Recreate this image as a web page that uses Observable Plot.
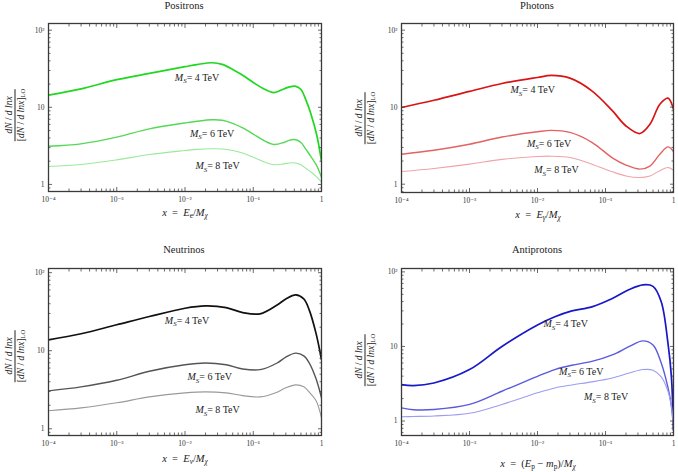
<!DOCTYPE html>
<html><head><meta charset="utf-8">
<script src="https://cdn.jsdelivr.net/npm/d3@7"></script>
<script src="https://cdn.jsdelivr.net/npm/@observablehq/plot@0.6"></script>
<style>
body{margin:0;background:#fff;}
#root{position:relative;width:678px;height:472px;font-family:"Liberation Serif","Times New Roman",Times,"DejaVu Serif","Noto Serif",serif;color:#222;overflow:hidden}
.panel{position:absolute;width:339px;height:236px;}
.panel svg{position:absolute;left:0;top:0;}
.t{position:absolute;transform:translate(-50%,-50%);white-space:nowrap;line-height:1;}
.title{font-size:10.5px;}
.xlab{font-size:10.5px;}
.ylab{position:absolute;transform:translate(-50%,-50%) rotate(-90deg);white-space:nowrap;text-align:center;font-size:9.5px;line-height:11px;display:inline-block;}
.ylab .num{border-bottom:0.8px solid #222;padding:0 1px;}
sub{font-size:70%;vertical-align:-0.3em;line-height:0;}
</style>
</head><body><div id="root"></div>
<script>
const FONT = '"Liberation Serif","Times New Roman",Times,"DejaVu Serif","Noto Serif",serif';
const masses = ["4", "6", "8"];
const widths = [1.7, 1.4, 1.1];

const xMajor = [1e-4, 1e-3, 1e-2, 1e-1, 1];
const xMajorLabels = ["10⁻⁴", "10⁻³", "10⁻²", "10⁻¹", "1"];
const yMajor = [1, 10, 100];
const yMajorLabels = ["1", "10", "10²"];

// Positrons
const positronX = [0.0001, 0.0003, 0.001, 0.003, 0.01, 0.015, 0.025, 0.035, 0.05, 0.07, 0.1, 0.14, 0.2, 0.28, 0.34, 0.42, 0.5, 0.6, 0.7, 0.85, 1];
const positron4 = [14.4, 17.3, 22.8, 27.5, 33.6, 35.8, 37.8, 36, 31, 26, 21, 17.5, 15.5, 17.3, 18.4, 18.7, 17, 12, 8.2, 4.4, 2.0];
const positron6 = [3.13, 3.36, 4.1, 5.25, 6.27, 6.6, 6.9, 6.8, 6.2, 5.4, 4.5, 3.75, 3.3, 3.5, 3.75, 3.8, 3.5, 2.8, 2.3, 1.75, 1.24];
const positron8 = [1.71, 1.81, 2.08, 2.44, 2.75, 2.85, 2.9, 2.88, 2.75, 2.55, 2.25, 1.98, 1.8, 1.85, 1.9, 1.9, 1.8, 1.6, 1.45, 1.25, 1.07];
const positronLabelX = [0.015, 0.025, 0.03];
const positronLabelY = [24.2, 4.6, 1.73];
const positronColors = ["#1fd81f", "#55d955", "#9be99b"];

// Photons
const photonX = [0.0001, 0.0003, 0.001, 0.003, 0.01, 0.016, 0.03, 0.063, 0.126, 0.2, 0.32, 0.45, 0.63, 0.83, 1];
const photon4 = [9.9, 12.3, 16, 20.3, 24.3, 25.8, 23.8, 16.3, 9, 5.7, 4.55, 6, 10.9, 13.1, 9.4];
const photon6 = [2.45, 2.76, 3.3, 4.1, 4.8, 5.0, 4.7, 3.5, 2.2, 1.77, 1.57, 1.72, 2.45, 3.05, 2.65];
const photon8 = [1.46, 1.6, 1.82, 2.1, 2.29, 2.31, 2.22, 1.82, 1.45, 1.28, 1.22, 1.28, 1.5, 1.65, 1.52];
const photonLabelX = [0.0085, 0.0148, 0.019];
const photonLabelY = [16.6, 3.37, 1.52];
const photonColors = ["#d81515", "#e36262", "#f0a3a8"];

// Neutrinos
const neutrinoX = [0.0001, 0.0003, 0.001, 0.003, 0.01, 0.02, 0.04, 0.07, 0.126, 0.224, 0.3, 0.42, 0.55, 0.66, 0.83, 1];
const neutrino4 = [13.8, 16.5, 21.5, 27.4, 35, 37.5, 35.7, 30.8, 29.7, 38.6, 46, 52, 46, 33.4, 16.8, 7.7];
const neutrino6 = [3.06, 3.44, 4.18, 5.45, 6.6, 6.96, 6.6, 5.83, 5.72, 6.96, 8.3, 9.3, 8.6, 7.0, 4.4, 2.49];
const neutrino8 = [1.7, 1.85, 2.15, 2.56, 2.88, 2.97, 2.88, 2.66, 2.56, 2.94, 3.35, 3.65, 3.45, 2.95, 2.3, 1.38];
const neutrinoLabelX = [0.0107, 0.023, 0.030];
const neutrinoLabelY = [24.2, 4.57, 1.73];
const neutrinoColors = ["#111111", "#555555", "#9a9a9a"];

// Antiprotons
const antiprotonX = [0.0001, 0.00015, 0.0003, 0.001, 0.003, 0.01, 0.018, 0.032, 0.063, 0.126, 0.224, 0.355, 0.5, 0.66, 0.83, 0.93, 1];
const antiproton4 = [3.08, 2.99, 3.24, 4.9, 10, 19.4, 25, 30, 34, 44, 58, 67, 64, 39.8, 11, 4, 0.75];
const antiproton6 = [1.5, 1.42, 1.43, 1.67, 2.51, 3.98, 4.9, 5.6, 6.3, 7.7, 10, 11.9, 10.5, 6, 2.8, 1.6, 0.8];
const antiproton8 = [1.14, 1.15, 1.17, 1.27, 1.67, 2.39, 2.78, 3.05, 3.35, 3.78, 4.4, 4.9, 4.8, 3.9, 2.5, 1.6, 0.82];
const antiprotonLabelX = [0.026, 0.044, 0.102];
const antiprotonLabelY = [20, 4.64, 2.09];
const antiprotonColors = ["#1818c8", "#5a5ade", "#9c9cf0"];

const xMinor = d3.range(-4, 0).flatMap(e => d3.range(2, 10).map(k => k * Math.pow(10, e)));
const yMinorAll = d3.range(-1, 2).flatMap(e => d3.range(2, 10).map(k => k * Math.pow(10, e)));

function makePanel(cfg) {
  const series = [cfg.y4, cfg.y6, cfg.y8];
  const rows = [];
  masses.forEach((m, j) => cfg.xs.forEach((x, i) => rows.push({x, y: series[j][i], m})));
  const labelRows = masses.map((m, j) => ({x: cfg.lx[j], y: cfg.ly[j], t: `M_S= ${m} TeV`}));
  const [y0, y1] = cfg.yDomain;
  const yMin = yMinorAll.filter(v => v > y0 && v < y1);
  const tickStyle = {stroke: "#444", strokeWidth: 0.8, fill: "none", label: null};
  const svg = Plot.plot({
    width: 339, height: 236,
    marginLeft: cfg.m[0], marginRight: cfg.m[1], marginTop: cfg.m[2], marginBottom: cfg.m[3],
    x: {type: "log", domain: [1e-4, 1]},
    y: {type: "log", domain: cfg.yDomain},
    style: {fontFamily: FONT, fontSize: "7.5px", color: "#222", background: "transparent", overflow: "visible"},
    marks: [
      ...masses.map((m, j) => Plot.line(rows.filter(r => r.m === m), {
        x: "x", y: "y", stroke: cfg.colors[j], strokeWidth: widths[j], curve: "catmull-rom", clip: true
      })),
      Plot.text(labelRows, {x: "x", y: "y", text: "t", fontSize: 10, fill: "#222", textAnchor: "middle", fontFamily: FONT}),
      Plot.axisX(xMajor, {anchor: "bottom", tickSize: -4, ...tickStyle}),
      Plot.axisX(xMinor, {anchor: "bottom", tickSize: -2.5, ...tickStyle}),
      Plot.axisX(xMajor, {anchor: "top", tickSize: -4, ...tickStyle}),
      Plot.axisX(xMinor, {anchor: "top", tickSize: -2.5, ...tickStyle}),
      Plot.axisY(yMajor, {anchor: "left", tickSize: -4, ...tickStyle}),
      Plot.axisY(yMin, {anchor: "left", tickSize: -2.5, ...tickStyle}),
      Plot.axisY(yMajor, {anchor: "right", tickSize: -4, ...tickStyle}),
      Plot.axisY(yMin, {anchor: "right", tickSize: -2.5, ...tickStyle}),
      Plot.axisX(xMajor, {anchor: "bottom", tickSize: 0, tickPadding: 5, label: null, fill: "#333", fontFamily: FONT,
        tickFormat: d => xMajorLabels[xMajor.indexOf(d)]}),
      Plot.axisY(yMajor, {anchor: "left", tickSize: 0, tickPadding: 4, label: null, fill: "#333", fontFamily: FONT,
        tickFormat: d => yMajorLabels[yMajor.indexOf(d)]}),
      Plot.frame({stroke: "#3a3a3a", strokeWidth: 1.3})
    ]
  });
  d3.select(svg).selectAll('g[aria-label="text"] text').each(function () {
    const s = d3.select(this);
    const t = s.text();
    const rest = t.slice(3);
    s.text(null);
    s.append("tspan").attr("font-style", "italic").text("M");
    s.append("tspan").attr("font-style", "italic").attr("font-size", "7").attr("dy", "2.5").text("S");
    s.append("tspan").attr("dy", "-2.5").text(rest);
  });
  const div = document.createElement("div");
  div.className = "panel";
  div.style.left = cfg.pos[0] + "px";
  div.style.top = cfg.pos[1] + "px";
  div.appendChild(svg);
  const title = document.createElement("div");
  title.className = "t title";
  title.style.left = cfg.title[1] + "px"; title.style.top = cfg.title[2] + "px";
  title.textContent = cfg.title[0];
  div.appendChild(title);
  const xl = document.createElement("div");
  xl.className = "t xlab";
  xl.style.left = cfg.xlab[1] + "px"; xl.style.top = cfg.xlab[2] + "px";
  xl.innerHTML = cfg.xlab[0];
  div.appendChild(xl);
  const yl = document.createElement("div");
  yl.className = "ylab";
  yl.style.left = cfg.ylab[0] + "px"; yl.style.top = cfg.ylab[1] + "px";
  yl.innerHTML = '<div class="num"><i>dN</i> / <i>d</i> <i>ln</i><i>x</i></div><div class="den">[<i>dN</i> / <i>d</i> <i>ln</i><i>x</i>]<sub>LO</sub></div>';
  div.appendChild(yl);
  document.getElementById("root").appendChild(div);
}

const sp = "&nbsp;&nbsp;";
makePanel({
  xs: positronX, y4: positron4, y6: positron6, y8: positron8,
  lx: positronLabelX, ly: positronLabelY, colors: positronColors,
  yDomain: [0.81, 122], m: [48, 18, 23, 45], pos: [0, 0],
  title: ["Positrons", 184, 6], xlab: [`<i>x</i>${sp}=${sp}<i>E</i><sub>e</sub>/<i>M</i><sub><i>χ</i></sub>`, 185, 213], ylab: [15, 115]
});
makePanel({
  xs: photonX, y4: photon4, y6: photon6, y8: photon8,
  lx: photonLabelX, ly: photonLabelY, colors: photonColors,
  yDomain: [0.78, 122], m: [62, 5, 23, 44], pos: [339, 0],
  title: ["Photons", 198, 6], xlab: [`<i>x</i>${sp}=${sp}<i>E</i><sub><i>γ</i></sub>/<i>M</i><sub><i>χ</i></sub>`, 199, 215], ylab: [26, 118]
});
makePanel({
  xs: neutrinoX, y4: neutrino4, y6: neutrino6, y8: neutrino8,
  lx: neutrinoLabelX, ly: neutrinoLabelY, colors: neutrinoColors,
  yDomain: [0.82, 113], m: [48, 18, 32, 37], pos: [0, 236],
  title: ["Neutrinos", 184, 14], xlab: [`<i>x</i>${sp}=${sp}<i>E</i><sub><i>ν</i></sub>/<i>M</i><sub><i>χ</i></sub>`, 185, 223], ylab: [15, 120]
});
makePanel({
  xs: antiprotonX, y4: antiproton4, y6: antiproton6, y8: antiproton8,
  lx: antiprotonLabelX, ly: antiprotonLabelY, colors: antiprotonColors,
  yDomain: [0.64, 111], m: [62, 5, 32, 37], pos: [339, 236],
  title: ["Antiprotons", 198, 14], xlab: [`<i>x</i>${sp}=${sp}(<i>E</i><sub>p</sub> − <i>m</i><sub>p</sub>)/<i>M</i><sub><i>χ</i></sub>`, 199, 228], ylab: [26, 124]
});
</script>
</body></html>
